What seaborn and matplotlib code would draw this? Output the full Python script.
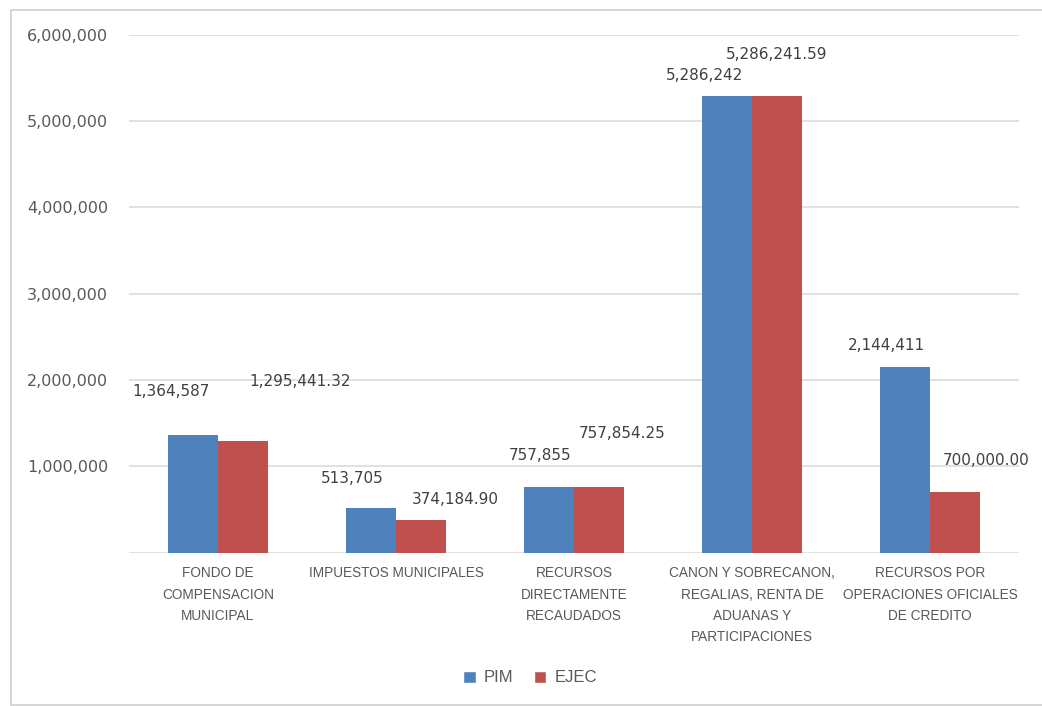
import matplotlib
matplotlib.use("Agg")
import matplotlib.pyplot as plt
from matplotlib.patches import Rectangle
from matplotlib.lines import Line2D
from matplotlib.ticker import FuncFormatter
import seaborn as sns
import pandas as pd

# Budget by funding source: PIM (modified budget) vs EJEC (executed)
categorias = [
    "FONDO DE\nCOMPENSACION\nMUNICIPAL",
    "IMPUESTOS MUNICIPALES",
    "RECURSOS\nDIRECTAMENTE\nRECAUDADOS",
    "CANON Y SOBRECANON,\nREGALIAS, RENTA DE\nADUANAS Y\nPARTICIPACIONES",
    "RECURSOS POR\nOPERACIONES OFICIALES\nDE CREDITO",
]
pim = [1364587, 513705, 757855, 5286242, 2144411]
ejec = [1295441.32, 374184.90, 757854.25, 5286241.59, 700000.00]
series = ["PIM", "EJEC"]
y_ticks = [1000000, 2000000, 3000000, 4000000, 5000000, 6000000]

BLUE = "#4F81BD"
RED = "#C0504D"
GRID = "#D9D9D9"
TEXT = "#595959"

sns.set_theme(style="white")
plt.rcParams["font.family"] = ["DejaVu Sans"]

df = pd.DataFrame({
    "categoria": categorias * 2,
    "monto": pim + ejec,
    "serie": [series[0]] * len(pim) + [series[1]] * len(ejec),
})

W, H = 1042, 706
fig = plt.figure(figsize=(W / 100, H / 100), dpi=100)
fig.patch.set_facecolor("white")

# thin frame on the left, top and bottom of the chart area
x0, y0, y1 = 10.5 / W, 1 - 9.5 / H, 1 - 704.5 / H
for xs, ys in [([x0, x0], [y1, y0]), ([x0, 1.0], [y0, y0]), ([x0, 1.0], [y1, y1])]:
    fig.add_artist(Line2D(xs, ys, transform=fig.transFigure,
                          color="#D0D0D0", linewidth=1.2))

left, right = 129 / W, 1019 / W
bottom, top = 1 - 552.5 / H, 1 - 34.7 / H
ax = fig.add_axes([left, bottom, right - left, top - bottom])

sns.barplot(data=df, x="categoria", y="monto", hue="serie",
            palette=[BLUE, RED], width=0.562, gap=0, saturation=1,
            linewidth=0, ax=ax, legend=False)

ax.set_ylim(0, 6000000)
ax.set_xlim(-0.5, len(categorias) - 0.5)
ax.set_yticks(y_ticks)
ax.yaxis.set_major_formatter(FuncFormatter(lambda v, p: f"{v:,.0f}"))
ax.tick_params(axis="y", length=0, pad=15, labelsize=11.5, labelcolor=TEXT)
ax.tick_params(axis="x", length=0, pad=10, labelcolor=TEXT)
for lbl in ax.get_xticklabels():
    lbl.set_fontfamily(["Liberation Sans"])
    lbl.set_fontsize(9.8)
    lbl.set_linespacing(1.65)
ax.set_xlabel("")
ax.set_ylabel("")

# horizontal gridlines, including the baseline
for v in [0] + y_ticks:
    ax.axhline(v, color=GRID, linewidth=1.1, zorder=0)
for s in ax.spines.values():
    s.set_visible(False)

# value labels, offset from each bar top (pixels: dx, dy)
offsets = [
    [(-22, 43), (-19, 30), (-9, 32), (-22, 21), (-19, 22)],
    [(57, 59), (34, 21), (23, 54), (0, 42), (31, 32)],
]
fmts = ["{:,.0f}", "{:,.2f}"]
vals = [pim, ejec]
for k, cont in enumerate(ax.containers):
    for i, bar in enumerate(cont):
        xc = bar.get_x() + bar.get_width() / 2
        h = bar.get_height()
        ax.annotate(fmts[k].format(vals[k][i]), xy=(xc, h),
                    xytext=offsets[k][i], textcoords="offset pixels",
                    ha="center", va="center", fontsize=11,
                    color="#404040", annotation_clip=False)

handles = [Rectangle((0, 0), 1, 1, facecolor=BLUE),
           Rectangle((0, 0), 1, 1, facecolor=RED)]
fig.legend(handles, series, loc="center", ncol=2,
           bbox_to_anchor=(530 / W, 1 - 678 / H), frameon=False,
           handlelength=0.75, handleheight=0.75, handletextpad=0.5,
           columnspacing=1.2, prop={"family": "Liberation Sans", "size": 12},
           labelcolor=TEXT)

fig.savefig("out.png", dpi=100, facecolor="white")
